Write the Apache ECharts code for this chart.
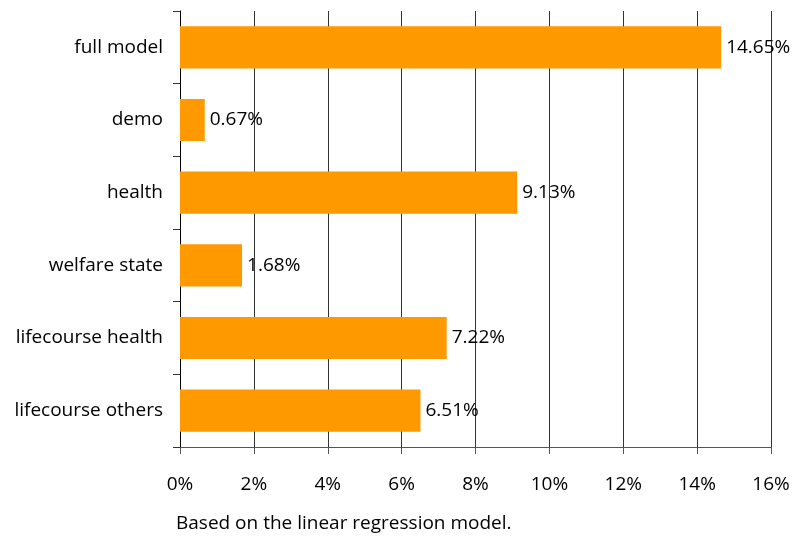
<!DOCTYPE html>
<html><head><meta charset="utf-8">
<script src="https://cdn.jsdelivr.net/npm/echarts@6/dist/echarts.min.js"></script>
<style>html,body{margin:0;padding:0;background:#fff}#c{width:794px;height:537px}</style>
</head><body><div id="c"></div>
<script>
const categories = ["full model","demo","health","welfare state","lifecourse health","lifecourse others"];
const values = [14.65, 0.67, 9.13, 1.68, 7.22, 6.51];
const xTicks = [0,2,4,6,8,10,12,14,16];
const note = "Based on the linear regression model.";
const font = "'Open Sans', sans-serif";
const fs = 19;
const chart = echarts.init(document.getElementById('c'));
chart.setOption({
  animation:false,
  grid:{left:180,right:23,top:11,bottom:90,containLabel:false},
  xAxis:{type:'value',min:xTicks[0],max:xTicks[xTicks.length-1],interval:2,
    axisLine:{show:true,lineStyle:{color:'#555',width:1}},
    axisTick:{show:true,length:7,lineStyle:{color:'#555'}},
    axisLabel:{formatter:v=>v+'%',color:'#000',fontSize:fs,fontFamily:font,margin:28},
    splitLine:{show:true,lineStyle:{color:'#333',width:1}}},
  yAxis:{type:'category',data:categories,inverse:true,
    axisLine:{show:true,lineStyle:{color:'#000',width:1}},
    axisTick:{show:true,length:7,lineStyle:{color:'#333'}},
    axisLabel:{color:'#000',fontSize:fs,fontFamily:font,margin:17}},
  graphic:[{type:'text',left:176,top:514,style:{text:note,fill:'#000',fontSize:fs,fontFamily:font}}],
  series:[{type:'bar',data:values,barWidth:'58%',itemStyle:{color:'#FF9900'},
    label:{show:true,position:'right',distance:5,formatter:p=>p.value.toFixed(2)+'%',color:'#000',fontSize:fs,fontFamily:font}}]
});
</script></body></html>
